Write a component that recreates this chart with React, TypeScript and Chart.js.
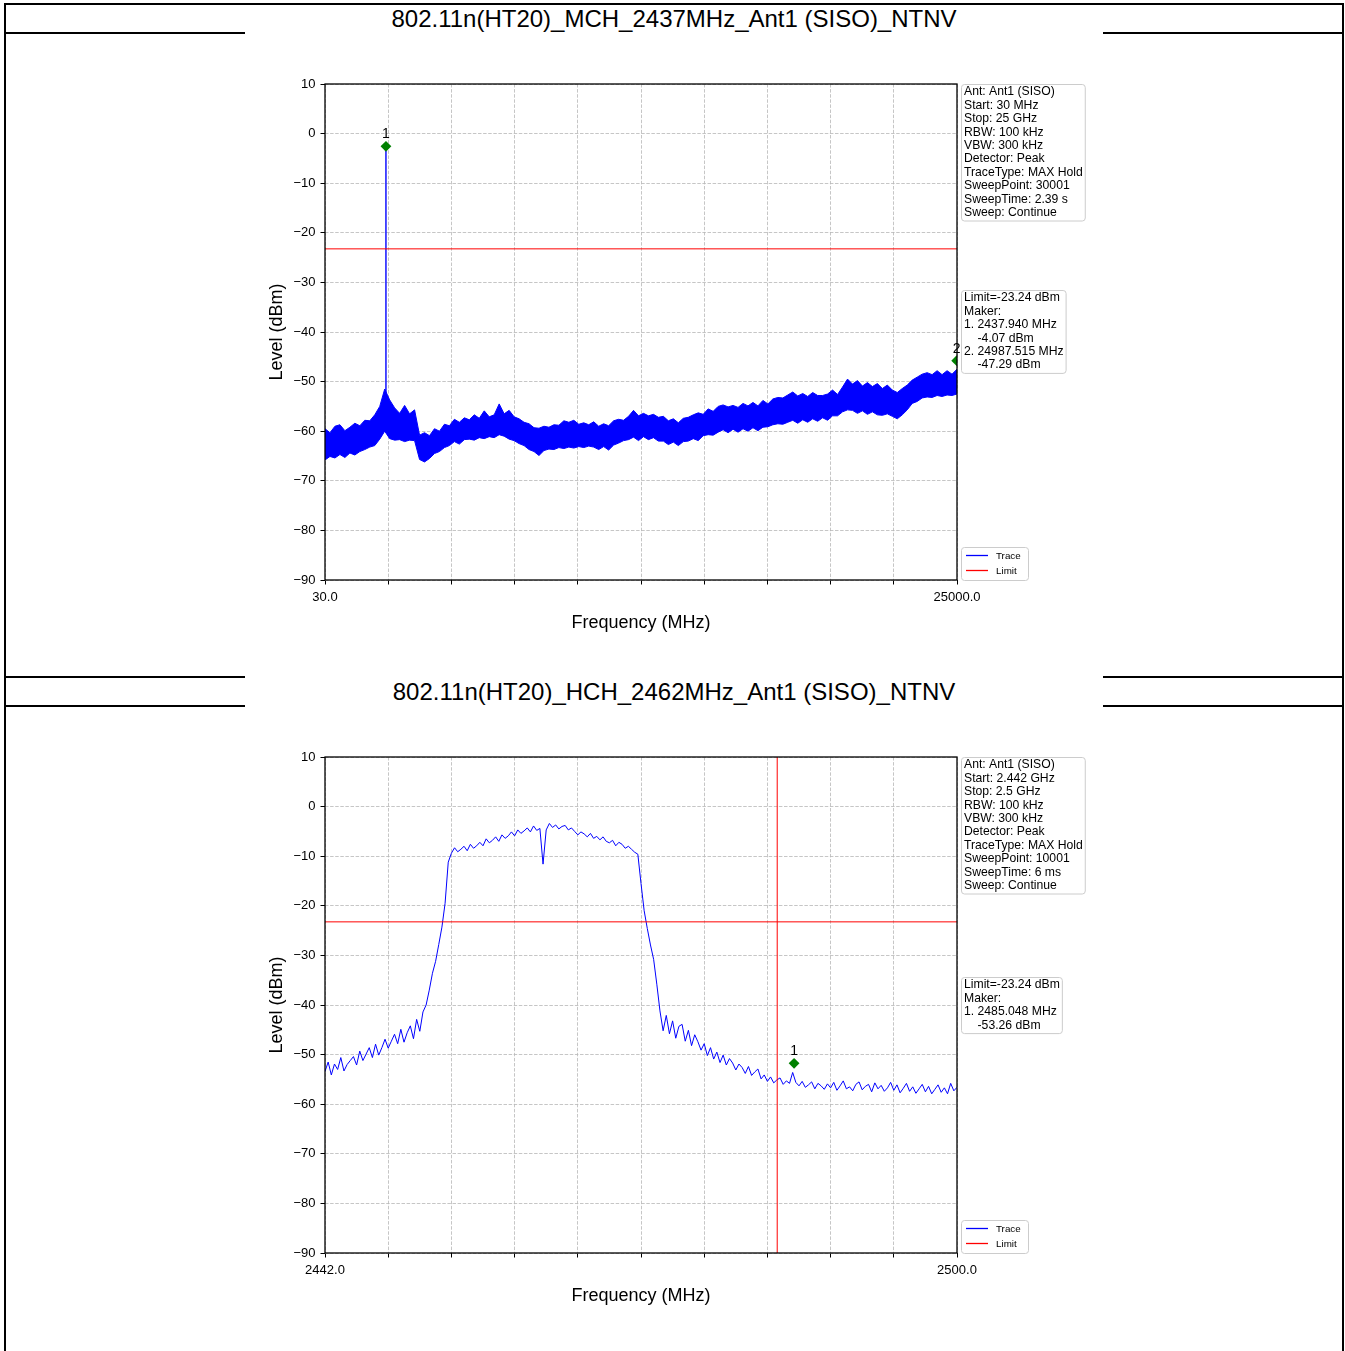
import React, { useEffect, useRef } from 'react';
import { Chart, registerables } from 'chart.js';

Chart.register(...registerables);

// ---------------- data ----------------
const TOP_TITLE = '802.11n(HT20)_MCH_2437MHz_Ant1 (SISO)_NTNV';
const BOTTOM_TITLE = '802.11n(HT20)_HCH_2462MHz_Ant1 (SISO)_NTNV';

const LIMIT = -23.24;
const Y_TICKS = [-90, -80, -70, -60, -50, -40, -30, -20, -10, 0, 10];
const X_DIVISIONS = 10;

const TOP_START = 30;
const TOP_STOP = 25000;
// upper / lower edges of the dense MAX-hold noise band (evenly spread over the sweep)
const TOP_UPPER = [
  -59.5, -60.3, -59.0, -58.7, -59.9, -59.2, -58.4, -58.9, -57.8, -57.9,
  -56.7, -55.0, -51.5, -53.7, -55.3, -56.4, -54.8, -56.5, -55.7,
  -60.8, -60.3, -60.9, -59.5, -60.0, -58.6, -58.9, -57.6, -58.2, -57.3, -57.7,
  -56.7, -57.4, -55.9, -57.1, -56.7, -54.5, -56.5, -55.8, -57.1, -57.5,
  -58.2, -58.5, -59.3, -59.4, -59.0, -59.2, -58.7, -58.8, -57.9, -58.2,
  -57.8, -58.6, -58.3, -58.7, -58.1, -59.0, -58.5, -58.9, -57.9, -57.6,
  -57.8, -57.0, -55.8, -56.9, -56.4, -56.9, -56.6, -57.2, -57.0, -57.9,
  -57.5, -58.3, -57.4, -57.2, -56.7, -56.3, -56.6, -55.5, -56.0, -55.0,
  -54.7, -55.1, -54.8, -55.2, -54.4, -54.9, -54.2, -54.9, -53.8, -54.5,
  -53.5, -53.2, -53.3, -52.7, -52.1, -52.9, -52.4, -53.0, -52.2, -52.8,
  -52.8, -52.5, -51.7, -52.6, -51.1, -49.5, -50.5, -49.8, -50.9, -50.2,
  -51.0, -50.4, -51.4, -50.7, -51.7, -52.2, -51.4, -50.7, -49.7, -49.1,
  -48.5, -48.2, -48.6, -47.8, -48.6, -47.8, -48.5, -47.5,
];
const TOP_LOWER = [
  -65.8, -65.1, -65.4, -64.7, -65.3, -64.4, -64.8, -64.1, -63.7, -63.2,
  -62.9, -61.6, -60.0, -61.5, -61.8, -61.7, -62.1, -61.8, -61.9,
  -65.7, -66.2, -65.5, -64.5, -64.1, -63.3, -62.9, -62.1, -62.6, -61.7, -61.6,
  -61.8, -61.3, -61.5, -61.1, -61.3, -60.7, -61.0, -61.6, -61.9, -62.5,
  -62.9, -63.7, -64.1, -64.9, -63.9, -63.6, -63.7, -63.3, -63.5, -63.2,
  -63.4, -63.1, -63.3, -63.0, -63.2, -63.7, -63.1, -63.8, -62.8, -62.4,
  -61.9, -61.7, -61.2, -61.9, -61.1, -61.7, -61.3, -62.0, -62.0, -62.7,
  -62.2, -62.9, -62.1, -62.0, -61.5, -61.9, -60.9, -60.7, -60.8, -60.2,
  -59.7, -60.3, -59.6, -60.2, -59.5, -60.0, -59.3, -59.9, -59.2, -59.1,
  -58.7, -58.5, -58.6, -58.2, -57.8, -58.4, -57.7, -58.2, -57.5, -58.0,
  -57.3, -57.8, -56.9, -56.9, -56.1, -55.7, -55.8, -56.4, -55.9, -56.6,
  -56.1, -56.7, -56.8, -56.5, -57.0, -57.5, -56.7, -55.7, -54.4, -54.0,
  -53.3, -53.1, -53.2, -52.8, -53.0, -52.7, -52.8, -52.5,
];
const TOP_SPIKE_FREQ = 2437.94;
const TOP_SPIKE_BASE = -58;
const TOP_SPIKE_PEAK = -3.5;
const TOP_MARKER_LABELS = ['1', '2'];
const TOP_MARKER_FREQS = [2437.94, 24987.515];
const TOP_MARKER_LEVELS = [-4.07, -47.29];
const TOP_INFO = [
  'Ant: Ant1 (SISO)', 'Start: 30 MHz', 'Stop: 25 GHz', 'RBW: 100 kHz', 'VBW: 300 kHz',
  'Detector: Peak', 'TraceType: MAX Hold', 'SweepPoint: 30001', 'SweepTime: 2.39 s', 'Sweep: Continue',
];
const TOP_MARKER_TEXT = [
  'Limit=-23.24 dBm', 'Maker:', '1. 2437.940 MHz', '    -4.07 dBm', '2. 24987.515 MHz', '    -47.29 dBm',
];

const BOT_START = 2442;
const BOT_STOP = 2500;
const BOT_TRACE = [
  -53.4, -51.5, -54.1, -51.9, -53.0, -50.6, -53.3, -52.0, -51.2, -50.4,
  -52.1, -49.3, -51.2, -49.9, -48.6, -50.6, -47.9, -50.1, -48.6, -46.9,
  -48.7, -47.3, -45.9, -47.8, -44.9, -47.5, -45.6, -44.2, -46.8, -42.9,
  -45.3, -41.4,
  -40.0, -37.0, -33.6, -31.2, -27.8, -24.3, -19.5, -11.2,
  -9.4, -8.3, -9.1, -8.6, -8.0, -8.9, -7.6, -8.4, -7.9, -7.2,
  -7.9, -6.5, -7.3, -6.8, -6.1, -7.0, -5.7, -6.4, -5.9, -5.1,
  -5.9, -4.7, -5.4, -4.9, -4.3, -5.1, -3.9, -4.8, -4.4,
  -11.6,
  -4.7, -3.4, -4.2, -3.7, -4.5, -4.0, -3.8, -4.7, -4.3, -5.0,
  -5.7, -5.1, -5.5, -6.1, -5.4, -6.4, -6.0, -6.7, -6.1, -7.0,
  -7.3, -6.8, -7.9, -7.2, -7.6, -8.4, -8.0, -8.6, -9.2, -9.6,
  -15.5, -21.0, -24.6, -27.9, -30.8, -35.8, -41.2, -45.2, -42.1, -45.8,
  -43.2, -46.7, -44.3, -43.9, -47.3, -45.1, -48.2, -46.0, -47.4, -49.1,
  -47.8, -50.2, -48.6, -50.9, -49.5, -51.6, -50.1, -52.1, -50.8, -51.7,
  -53.1, -51.9, -52.6, -53.8, -52.4, -54.2, -53.5, -52.9, -54.9, -54.1,
  -55.4, -54.5, -55.7, -55.1, -54.7, -56.0, -55.3, -55.8, -53.6, -55.6,
  -56.3, -55.4, -56.6, -56.1, -55.5, -56.9, -55.8, -56.3, -57.0, -55.9,
  -56.7, -55.6, -57.2, -56.3, -55.3, -56.9, -56.5, -57.3, -56.0, -55.5,
  -57.1, -56.4, -56.0, -57.5, -55.7, -56.9, -56.2, -57.4, -56.7, -55.6,
  -57.2, -56.1, -57.7, -56.8, -55.8, -57.4, -56.5, -57.8, -56.9, -56.0,
  -57.5, -56.4, -57.9, -57.0, -56.1, -57.6, -56.7, -57.9, -55.8, -57.3, -56.6,
];
const BOT_BAND_EDGE = 2483.5;
const BOT_MARKER_LABELS = ['1'];
const BOT_MARKER_FREQS = [2485.048];
const BOT_MARKER_LEVELS = [-53.26];
const BOT_INFO = [
  'Ant: Ant1 (SISO)', 'Start: 2.442 GHz', 'Stop: 2.5 GHz', 'RBW: 100 kHz', 'VBW: 300 kHz',
  'Detector: Peak', 'TraceType: MAX Hold', 'SweepPoint: 10001', 'SweepTime: 6 ms', 'Sweep: Continue',
];
const BOT_MARKER_TEXT = ['Limit=-23.24 dBm', 'Maker:', '1. 2485.048 MHz', '    -53.26 dBm'];

const LEGEND_LABELS = ['Trace', 'Limit'];

// ---------------- style ----------------
const FONT = "'Liberation Sans', Arial, Helvetica, sans-serif";
const BLUE = '#0000ff';
const RED = '#ff0000';
const GREEN = '#008000';
const MARKER_LIFT = 1.5;
const CANVAS_W = 858;
const CANVAS_H = 646;
const PLOT_TOP = 52;
const PLOT_H = 496;
const Y_AXIS_W = 80;
const RIGHT_PAD = 146;

Chart.defaults.font.family = FONT;

const sweep = (start: number, stop: number, values: number[]) =>
  values.map((y, i) => ({ x: start + (i * (stop - start)) / (values.length - 1), y }));

const fmtY = (v: number) => (v < 0 ? '\u2212' + Math.abs(v) : String(v));

type Spec = {
  start: number;
  stop: number;
  datasets: any[];
  markerLabels: string[];
  markerFreqs: number[];
  markerLevels: number[];
  info: string[];
  markerText: string[];
  markerBoxOffset: number;
};

function drawBox(ctx: CanvasRenderingContext2D, x: number, y: number, w: number, h: number) {
  ctx.beginPath();
  ctx.roundRect(Math.round(x) + 0.5, Math.round(y) + 0.5, w, h, 3);
  ctx.fillStyle = '#ffffff';
  ctx.fill();
  ctx.strokeStyle = '#cccccc';
  ctx.lineWidth = 1;
  ctx.stroke();
}

function drawTextBox(ctx: CanvasRenderingContext2D, x: number, y: number, lines: string[]) {
  ctx.font = `12.2px ${FONT}`;
  const w = Math.max(...lines.map((l) => ctx.measureText(l).width)) + 5;
  const h = lines.length * 13.4 + 2.5;
  drawBox(ctx, x, y, w, h);
  ctx.fillStyle = '#000';
  ctx.textAlign = 'left';
  ctx.textBaseline = 'middle';
  lines.forEach((l, k) => ctx.fillText(l, x + 3, y + 8 + k * 13.4));
}

const decorPlugin = {
  id: 'decor',
  afterDraw(chart: any) {
    const spec: Spec = chart.options.plugins.decor.spec;
    const { ctx, chartArea: a, scales } = chart;
    ctx.save();
    // frame
    ctx.strokeStyle = '#000';
    ctx.lineWidth = 1.3;
    ctx.strokeRect(a.left, a.top, a.right - a.left, a.bottom - a.top);
    // marker numbers
    ctx.fillStyle = '#000';
    ctx.font = `14px ${FONT}`;
    ctx.textAlign = 'center';
    ctx.textBaseline = 'middle';
    spec.markerLabels.forEach((lab, k) => {
      const px = scales.x.getPixelForValue(spec.markerFreqs[k]);
      const py = scales.y.getPixelForValue(spec.markerLevels[k] + MARKER_LIFT);
      ctx.fillText(lab, px, py - 12);
    });
    // info boxes
    const bx = a.right + 4;
    drawTextBox(ctx, bx, a.top, spec.info);
    drawTextBox(ctx, bx, a.top + spec.markerBoxOffset, spec.markerText);
    // legend
    const ly = a.bottom - 33;
    drawBox(ctx, bx, ly, 67, 33);
    ctx.font = `9.8px ${FONT}`;
    ctx.textAlign = 'left';
    [BLUE, RED].forEach((c, k) => {
      const yy = ly + 8.5 + k * 15;
      ctx.strokeStyle = c;
      ctx.lineWidth = 1.3;
      ctx.beginPath();
      ctx.moveTo(bx + 5, yy);
      ctx.lineTo(bx + 27, yy);
      ctx.stroke();
      ctx.fillStyle = '#000';
      ctx.fillText(LEGEND_LABELS[k], bx + 35, yy + 0.5);
    });
    ctx.restore();
  },
};

function buildConfig(spec: Spec): any {
  const xTicks = Array.from(
    { length: X_DIVISIONS + 1 },
    (_, i) => spec.start + (i * (spec.stop - spec.start)) / X_DIVISIONS
  );
  const markerDs = {
    type: 'scatter',
    label: 'markers',
    data: spec.markerFreqs.map((f, k) => ({ x: f, y: spec.markerLevels[k] + MARKER_LIFT })),
    pointStyle: 'rectRot',
    pointRadius: 5.4,
    backgroundColor: GREEN,
    borderColor: GREEN,
    borderWidth: 0,
    showLine: false,
    order: 0,
  };
  const limitDs = {
    type: 'line',
    label: 'Limit',
    data: [
      { x: spec.start, y: LIMIT },
      { x: spec.stop, y: LIMIT },
    ],
    borderColor: RED,
    borderWidth: 1,
    pointRadius: 0,
    fill: false,
    order: 1,
  };
  const gridCommon = {
    color: '#b8b8b8',
    lineWidth: 0.8,
    tickColor: '#000',
    tickLength: 4.5,
    tickWidth: 1,
    drawTicks: true,
  };
  return {
    type: 'line',
    data: { datasets: [...spec.datasets, limitDs, markerDs] },
    plugins: [decorPlugin],
    options: {
      animation: false,
      responsive: false,
      maintainAspectRatio: false,
      events: [],
      elements: { line: { tension: 0 }, point: { radius: 0 } },
      layout: { padding: { top: PLOT_TOP, right: RIGHT_PAD, left: 0, bottom: 0 } },
      plugins: {
        legend: { display: false },
        tooltip: { enabled: false },
        decor: { spec },
      },
      scales: {
        x: {
          type: 'linear',
          min: spec.start,
          max: spec.stop,
          afterBuildTicks: (s: any) => {
            s.ticks = xTicks.map((v) => ({ value: v }));
          },
          afterFit: (s: any) => {
            s.height = CANVAS_H - PLOT_TOP - PLOT_H;
          },
          ticks: {
            autoSkip: false,
            maxRotation: 0,
            minRotation: 0,
            padding: 5,
            color: '#000',
            font: { size: 13 },
            callback: (v: any, i: number) => (i === 0 || i === X_DIVISIONS ? Number(v).toFixed(1) : ''),
          },
          grid: gridCommon,
          border: { display: false, dash: [3.5, 1.6] },
          title: {
            display: true,
            text: 'Frequency (MHz)',
            color: '#000',
            font: { size: 18 },
            padding: { top: 0, bottom: 44 },
          },
        },
        y: {
          type: 'linear',
          min: Y_TICKS[0],
          max: Y_TICKS[Y_TICKS.length - 1],
          afterBuildTicks: (s: any) => {
            s.ticks = Y_TICKS.map((v) => ({ value: v }));
          },
          afterFit: (s: any) => {
            s.width = Y_AXIS_W;
          },
          ticks: {
            padding: 5,
            color: '#000',
            font: { size: 13 },
            callback: (v: any) => fmtY(Number(v)),
          },
          grid: gridCommon,
          border: { display: false, dash: [3.5, 1.6] },
          title: {
            display: true,
            text: 'Level (dBm)',
            color: '#000',
            font: { size: 18 },
            padding: { top: 21, bottom: 0 },
          },
        },
      },
    },
  };
}

const TOP_SPEC: Spec = {
  start: TOP_START,
  stop: TOP_STOP,
  datasets: [
    {
      type: 'line',
      label: 'lower',
      data: sweep(TOP_START, TOP_STOP, TOP_LOWER),
      borderColor: BLUE,
      borderWidth: 1,
      pointRadius: 0,
      fill: false,
      order: 4,
    },
    {
      type: 'line',
      label: 'Trace',
      data: sweep(TOP_START, TOP_STOP, TOP_UPPER),
      borderColor: BLUE,
      backgroundColor: BLUE,
      borderWidth: 1,
      pointRadius: 0,
      fill: '-1',
      order: 3,
    },
    {
      type: 'line',
      label: 'spike',
      data: [
        { x: TOP_SPIKE_FREQ, y: TOP_SPIKE_BASE },
        { x: TOP_SPIKE_FREQ, y: TOP_SPIKE_PEAK },
      ],
      borderColor: BLUE,
      borderWidth: 1.4,
      pointRadius: 0,
      fill: false,
      order: 2,
    },
  ],
  markerLabels: TOP_MARKER_LABELS,
  markerFreqs: TOP_MARKER_FREQS,
  markerLevels: TOP_MARKER_LEVELS,
  info: TOP_INFO,
  markerText: TOP_MARKER_TEXT,
  markerBoxOffset: 206,
};

const BOT_SPEC: Spec = {
  start: BOT_START,
  stop: BOT_STOP,
  datasets: [
    {
      type: 'line',
      label: 'Trace',
      data: sweep(BOT_START, BOT_STOP, BOT_TRACE),
      borderColor: BLUE,
      borderWidth: 1,
      pointRadius: 0,
      fill: false,
      order: 3,
    },
    {
      type: 'line',
      label: 'edge',
      data: [
        { x: BOT_BAND_EDGE, y: Y_TICKS[0] },
        { x: BOT_BAND_EDGE, y: Y_TICKS[Y_TICKS.length - 1] },
      ],
      borderColor: RED,
      borderWidth: 1,
      pointRadius: 0,
      fill: false,
      order: 1,
    },
  ],
  markerLabels: BOT_MARKER_LABELS,
  markerFreqs: BOT_MARKER_FREQS,
  markerLevels: BOT_MARKER_LEVELS,
  info: BOT_INFO,
  markerText: BOT_MARKER_TEXT,
  markerBoxOffset: 220,
};

function SpectrumChart({ spec, top }: { spec: Spec; top: number }) {
  const ref = useRef<HTMLCanvasElement>(null);
  useEffect(() => {
    const chart = new Chart(ref.current as HTMLCanvasElement, buildConfig(spec));
    return () => chart.destroy();
  }, [spec]);
  return (
    <canvas
      ref={ref}
      width={CANVAS_W}
      height={CANVAS_H}
      style={{
        position: 'absolute',
        left: 245,
        top,
        width: CANVAS_W,
        height: CANVAS_H,
        background: '#ffffff',
        display: 'block',
      }}
    />
  );
}

const line = (left: number, top: number, width: number, height: number) => (
  <div style={{ position: 'absolute', left, top, width, height, background: '#000' }} />
);

function Title({ text, top }: { text: string; top: number }) {
  return (
    <div
      style={{
        position: 'absolute',
        left: 5,
        top,
        width: 1338,
        height: 28,
        lineHeight: '28px',
        textAlign: 'center',
        fontFamily: FONT,
        fontSize: 24,
        color: '#000',
        whiteSpace: 'nowrap',
      }}
    >
      {text}
    </div>
  );
}

export default function App() {
  return (
    <div
      style={{
        position: 'absolute',
        left: 0,
        top: 0,
        width: 1345,
        height: 1351,
        background: '#ffffff',
        overflow: 'hidden',
      }}
    >
      {line(4, 3, 1340, 2)}
      {line(4, 3, 2, 1348)}
      {line(1342, 3, 2, 1348)}
      {line(4, 32, 1340, 2)}
      {line(4, 676, 1340, 2)}
      {line(4, 705, 1340, 2)}
      <Title text={TOP_TITLE} top={5} />
      <Title text={BOTTOM_TITLE} top={678} />
      <SpectrumChart spec={TOP_SPEC} top={32} />
      <SpectrumChart spec={BOT_SPEC} top={705} />
    </div>
  );
}
